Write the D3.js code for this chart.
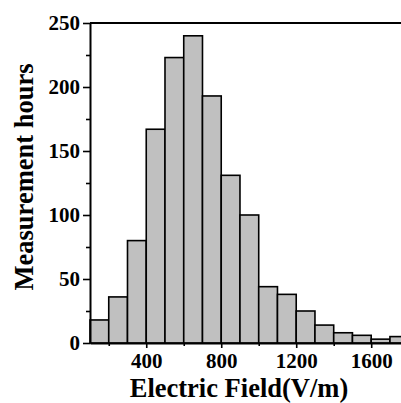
<!DOCTYPE html>
<html>
<head>
<meta charset="utf-8">
<script src="https://cdn.jsdelivr.net/npm/d3@7"></script>
<style>
  body { margin: 0; background: #fff; }
  svg text { font-family: "Liberation Serif", "Times New Roman", serif; font-weight: bold; fill: #000; }
</style>
</head>
<body>
<div id="chart"></div>
<script>
// Histogram of electric field measurements (bins of 100 V/m)
const binStarts = [100, 200, 300, 400, 500, 600, 700, 800, 900, 1000, 1100, 1200, 1300, 1400, 1500, 1600, 1700];
const hours = [18, 36, 80, 167, 223, 240, 193, 131, 100, 44, 38, 25, 14, 8, 6, 3, 5];
const binWidth = 100;
const xTickMajor = [400, 800, 1200, 1600];
const xTickMinor = [200, 600, 1000, 1400];
const yTickMajor = [0, 50, 100, 150, 200, 250];
const yTickMinor = [25, 75, 125, 175, 225];

const width = 401, height = 403;
const margin = { top: 23, bottom: 60, left: 90 };

const svg = d3.select('#chart')
    .append('svg')
    .attr('width', width)
    .attr('height', height);

const x = d3.scaleLinear()
    .domain([100, 1760])
    .range([margin.left, width + 0.2]);

const y = d3.scaleLinear()
    .domain([0, 250])
    .range([height - margin.bottom, margin.top]);

// bars
svg.append('g')
    .selectAll('rect')
    .data(binStarts)
    .join('rect')
    .attr('x', d => x(d))
    .attr('y', (d, i) => y(hours[i]))
    .attr('width', d => x(d + binWidth) - x(d))
    .attr('height', (d, i) => y(0) - y(hours[i]))
    .attr('fill', '#c0c0c0')
    .attr('stroke', '#000')
    .attr('stroke-width', 1.6);

// top frame line
svg.append('line')
    .attr('x1', margin.left).attr('x2', width)
    .attr('y1', y(250)).attr('y2', y(250))
    .attr('stroke', '#000')
    .attr('stroke-width', 2);

// x axis
const xAxis = svg.append('g')
    .attr('transform', `translate(0, ${y(0)})`)
    .call(d3.axisBottom(x).tickValues(xTickMajor).tickFormat(d3.format('d'))
        .tickSize(5).tickPadding(5).tickSizeOuter(0));
svg.append('g')
    .attr('transform', `translate(0, ${y(0)})`)
    .call(d3.axisBottom(x).tickValues(xTickMinor).tickSize(3).tickFormat('').tickSizeOuter(0))
    .select('.domain').remove();

// y axis
const yAxis = svg.append('g')
    .attr('transform', `translate(${margin.left}, 0)`)
    .call(d3.axisLeft(y).tickValues(yTickMajor).tickSize(7).tickPadding(3).tickSizeOuter(0));
svg.append('g')
    .attr('transform', `translate(${margin.left}, 0)`)
    .call(d3.axisLeft(y).tickValues(yTickMinor).tickSize(4).tickFormat('').tickSizeOuter(0))
    .select('.domain').remove();

svg.selectAll('.domain').attr('stroke-width', 2);
svg.selectAll('.tick line').attr('stroke-width', 1.6);
svg.selectAll('g').attr('font-family', null);
xAxis.selectAll('text').style('font-size', '21px');
yAxis.selectAll('text').style('font-size', '21px');

// axis titles
svg.append('text')
    .attr('x', 239)
    .attr('y', 397)
    .attr('text-anchor', 'middle')
    .style('font-size', '26.5px')
    .text('Electric Field(V/m)');

svg.append('text')
    .attr('transform', 'translate(33, 177) rotate(-90)')
    .attr('text-anchor', 'middle')
    .style('font-size', '26.5px')
    .text('Measurement hours');
</script>
</body>
</html>
